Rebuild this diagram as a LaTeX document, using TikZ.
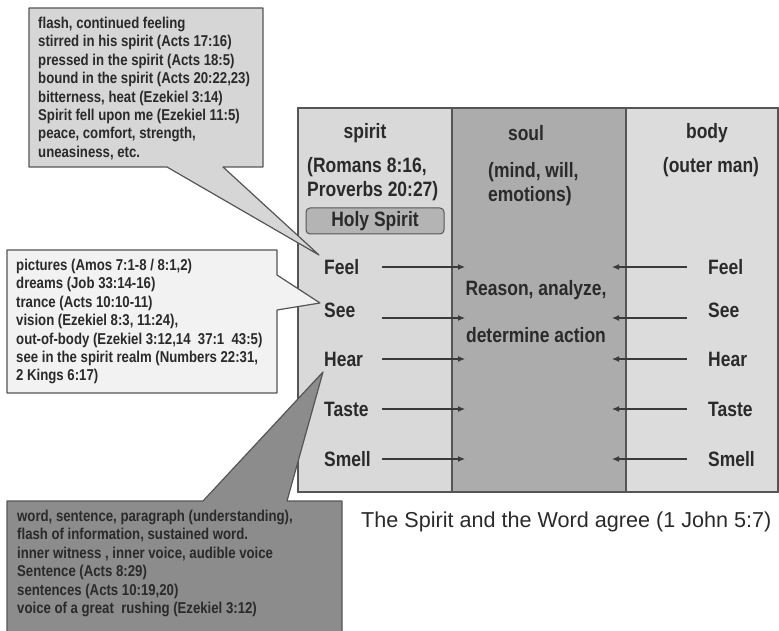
\documentclass[tikz,border=0pt]{standalone}
\usepackage{fontspec}
\setmainfont{Liberation Sans}[FakeStretch=0.84]
\newfontfamily\capfont{Liberation Sans}
\usetikzlibrary{arrows.meta, calc}

\definecolor{spiritgray}{HTML}{D9D9D9}
\definecolor{soulgray}{HTML}{ACACAC}
\definecolor{bodygray}{HTML}{DCDCDC}
\definecolor{holygray}{HTML}{B4B4B4}
\definecolor{feelnote}{HTML}{D6D6D6}
\definecolor{seenote}{HTML}{F2F2F2}
\definecolor{hearnote}{HTML}{8C8C8C}
\definecolor{edgegray}{HTML}{555555}
\definecolor{arrowgray}{HTML}{3A3A3A}
\definecolor{inkgray}{HTML}{2A2A2A}

\begin{document}
\begin{tikzpicture}[x=1pt, y=-1pt, inner sep=0pt,
        lbl/.style={text=inkgray, font=\bfseries\fontsize{20.8}{24}\selectfont},
        note/.style={anchor=north west, align=left, text=inkgray, font=\bfseries\fontsize{15.7}{18.4}\selectfont},
        bubble/.style={draw=edgegray, line width=1.2pt, line join=round},
        flow/.style={arrowgray, line width=1.2pt, -{Latex[length=7pt, width=6pt]}}]
        \useasboundingbox (0,0) rectangle (779,631);

        \fill[spiritgray] (298,108) rectangle (452,492);
        \fill[soulgray] (452,108) rectangle (626,492);
        \fill[bodygray] (626,108) rectangle (778,492);
        \draw[edgegray, line width=1.3pt] (298,108) rectangle (778,492)
              (452,108) -- (452,492) (626,108) -- (626,492);

        \node[lbl] (spirit) at (365,133) {spirit};
        \node[lbl, anchor=west, align=left] (romans) at (307,179) {(Romans 8:16,\\Proverbs 20:27)};
        \node[lbl, draw=edgegray, fill=holygray, line width=1pt, rounded corners=4pt,
              minimum width=138, minimum height=26] (holy) at (375,221) {Holy Spirit};
        \node[lbl] (soul) at (526,133) {soul};
        \node[lbl, anchor=west, align=left] (mind) at (488,184.5) {(mind, will,\\emotions)};
        \node[lbl] (body) at (707,133) {body};
        \node[lbl] (outer) at (711,167) {(outer man)};
        \node[lbl, align=center] (reason) at (536,311.5) {Reason, analyze,\\[23pt]determine action};

        \node[lbl, anchor=west] (lfeel) at (324,267) {Feel};
        \node[lbl, anchor=west] (lsee) at (324,310) {See};
        \node[lbl, anchor=west] (lhear) at (324,359) {Hear};
        \node[lbl, anchor=west] (ltaste) at (324,409) {Taste};
        \node[lbl, anchor=west] (lsmell) at (324,459) {Smell};
        \node[lbl, anchor=west] (rfeel) at (708,267) {Feel};
        \node[lbl, anchor=west] (rsee) at (708,310) {See};
        \node[lbl, anchor=west] (rhear) at (708,359) {Hear};
        \node[lbl, anchor=west] (rtaste) at (708,409) {Taste};
        \node[lbl, anchor=west] (rsmell) at (708,459) {Smell};

        \coordinate (lfeelA) at (382,267); \coordinate (lfeelB) at (465,267);
        \coordinate (lseeA) at (382,318); \coordinate (lseeB) at (465,318);
        \coordinate (lhearA) at (382,359); \coordinate (lhearB) at (465,359);
        \coordinate (ltasteA) at (382,409); \coordinate (ltasteB) at (465,409);
        \coordinate (lsmellA) at (382,459); \coordinate (lsmellB) at (465,459);
        \coordinate (rfeelA) at (687,267); \coordinate (rfeelB) at (612,267);
        \coordinate (rseeA) at (687,318); \coordinate (rseeB) at (612,318);
        \coordinate (rhearA) at (687,359); \coordinate (rhearB) at (612,359);
        \coordinate (rtasteA) at (687,409); \coordinate (rtasteB) at (612,409);
        \coordinate (rsmellA) at (687,459); \coordinate (rsmellB) at (612,459);

        \path[flow] (lfeelA) edge (lfeelB)
                    (lseeA) edge (lseeB)
                    (lhearA) edge (lhearB)
                    (ltasteA) edge (ltasteB)
                    (lsmellA) edge (lsmellB)
                    (rfeelA) edge (rfeelB)
                    (rseeA) edge (rseeB)
                    (rhearA) edge (rhearB)
                    (rtasteA) edge (rtasteB)
                    (rsmellA) edge (rsmellB);

        \coordinate (feeltip) at ($(lfeel.west)+(-5,-12)$);
        \coordinate (seetip) at ($(lsee.west)+(-4,-7)$);
        \coordinate (heartip) at ($(lhear.west)+(-1,13)$);

        \filldraw[bubble, fill=feelnote] (29,8) -- (263,8) -- (263,167) -- (223,167)
              -- (feeltip) -- (167,167) -- (29,167) -- cycle;
        \filldraw[bubble, fill=seenote] (7,250) -- (277,250) -- (277,275)
              -- (seetip) -- (277,310) -- (277,393) -- (7,393) -- cycle;
        \filldraw[bubble, fill=hearnote] (7,501) -- (203,501) -- (heartip)
              -- (287,501) -- (342,501) -- (342,640) -- (7,640) -- cycle;

        \node[note] (feelnotes) at (38,17) {flash, continued feeling\\
              stirred in his spirit (Acts 17:16)\\
              pressed in the spirit (Acts 18:5)\\
              bound in the spirit (Acts 20:22,23)\\
              bitterness, heat (Ezekiel 3:14)\\
              Spirit fell upon me (Ezekiel 11:5)\\
              peace, comfort, strength,\\
              uneasiness, etc.};
        \node[note] (seenotes) at (16,259) {pictures (Amos 7:1-8 / 8:1,2)\\
              dreams (Job 33:14-16)\\
              trance (Acts 10:10-11)\\
              vision (Ezekiel 8:3, 11:24),\\
              out-of-body (Ezekiel 3:12,14\ \ 37:1\ \ 43:5)\\
              see in the spirit realm (Numbers 22:31,\\
              2 Kings 6:17)};
        \node[note] (hearnotes) at (17,510) {word, sentence, paragraph (understanding),\\
              flash of information, sustained word.\\
              inner witness , inner voice, audible voice\\
              Sentence (Acts 8:29)\\
              sentences (Acts 10:19,20)\\
              voice of a great\ \ rushing (Ezekiel 3:12)};

        \node[anchor=west, text=inkgray, font=\capfont\fontsize{21.6}{26}\selectfont] (agree) at (361,522)
              {The Spirit and the Word agree (1 John 5:7)};
    \end{tikzpicture}
\end{document}
